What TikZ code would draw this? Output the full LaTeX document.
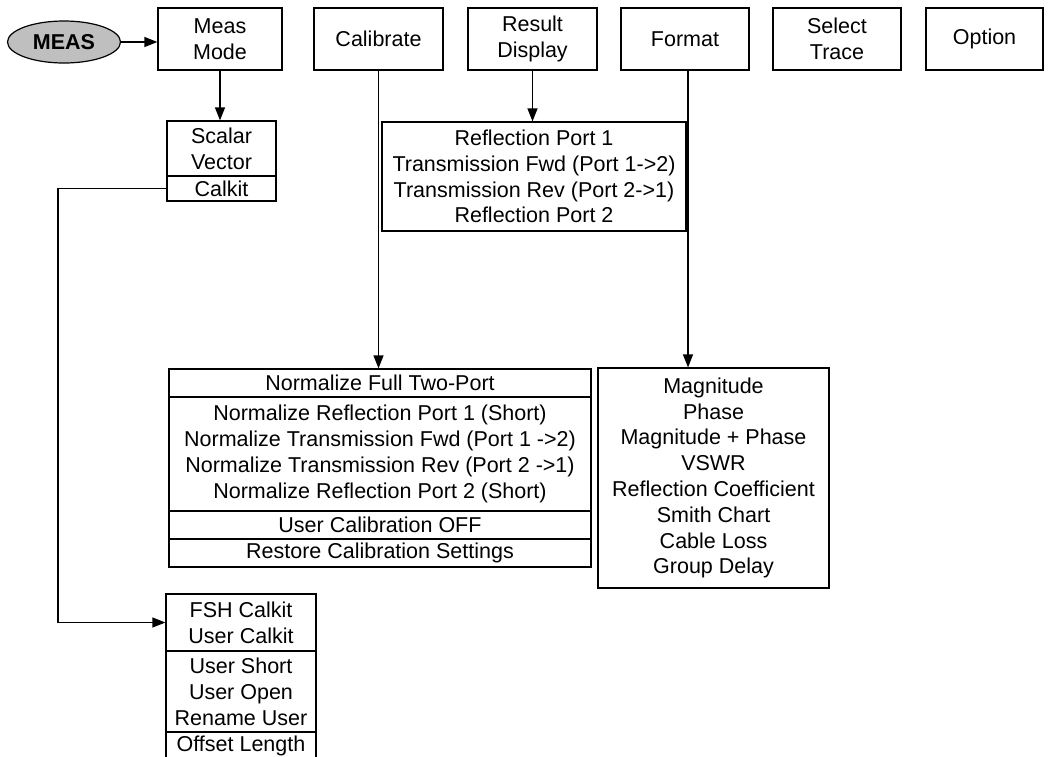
\documentclass[tikz,border=0pt]{standalone}
\usepackage{fontspec}
\setmainfont{Liberation Sans}
\usetikzlibrary{arrows.meta, shapes.geometric}

\begin{document}
\begin{tikzpicture}[x=1pt, y=-1pt, line width=1.2pt,
  font=\fontsize{21.5}{25.8}\selectfont,
  box/.style={draw, rectangle, inner sep=0pt, align=center},
  arr/.style={-{Triangle[length=13pt, width=10pt]}}]

  \useasboundingbox (0,0) rectangle (1048,756);

  % start key
  \node[ellipse, draw, fill=black!25, inner sep=0pt, minimum width=113pt, minimum height=42pt,
        font=\fontsize{21.5}{25.8}\selectfont\bfseries] (meas) at (64,42) {MEAS};

  % softkey row
  \node[box, minimum width=124pt, minimum height=62pt] (mm)  at (220,39)   {Meas\\Mode};
  \node[box, minimum width=129pt, minimum height=62pt] (cal) at (378.5,39) {Calibrate};
  \node[box, minimum width=129pt, minimum height=62pt] (res) at (532.5,39) {Result\\Display};
  \node[box, minimum width=128pt, minimum height=62pt] (fmt) at (685,39)   {Format};
  \node[box, minimum width=128pt, minimum height=62pt] (sel) at (837,39)   {Select\\Trace};
  \node[box, minimum width=117pt, minimum height=62pt] (opt) at (984.5,39) {Option};

  % meas mode menu
  \node[box, minimum width=109pt, minimum height=55pt] (sv)   at (221.5,148.5) {Scalar\\Vector};
  \node[box, minimum width=109pt, minimum height=25pt] (calk) at (221.5,188.5) {Calkit};

  % result display menu
  \node[box, minimum width=304pt, minimum height=109pt] (refl) at (534,176.5)
    {Reflection Port 1\\Transmission Fwd (Port 1->2)\\Transmission Rev (Port 2->1)\\Reflection Port 2};

  % calibrate menu
  \node[box, minimum width=422pt, minimum height=28pt]  (nfull) at (380,383) {Normalize Full Two-Port};
  \node[box, minimum width=422pt, minimum height=114pt] (nrefl) at (380,454)
    {Normalize Reflection Port 1 (Short)\\Normalize Transmission Fwd (Port 1 ->2)\\
     Normalize Transmission Rev (Port 2 ->1)\\Normalize Reflection Port 2 (Short)};
  \node[box, minimum width=422pt, minimum height=28pt]  (ucal)  at (380,525) {User Calibration OFF};
  \node[box, minimum width=422pt, minimum height=28pt]  (rest)  at (380,553) {Restore Calibration Settings};

  % format menu
  \node[box, minimum width=231pt, minimum height=220pt] (mag) at (713.5,478)
    {Magnitude\\Phase\\Magnitude + Phase\\VSWR\\Reflection Coefficient\\Smith Chart\\Cable Loss\\Group Delay};

  % calkit menu
  \node[box, minimum width=150pt, minimum height=57pt] (fcal)  at (241,622.5) {FSH Calkit\\User Calkit};
  \node[box, minimum width=150pt, minimum height=81pt] (fuser) at (241,691.5) {User Short\\User Open\\Rename User};
  \node[box, minimum width=150pt, minimum height=28pt] (foff)  at (241,746)   {Offset Length};

  % connectors
  \draw[arr] (meas.east) -- (meas.east -| mm.west);
  \draw[arr] (mm.south) -- (mm.south |- sv.north);
  \draw[arr] (cal.south) -- (cal.south |- nfull.north);
  \draw[arr] (res.south) -- (res.south |- refl.north);
  \draw[arr] ([xshift=3pt]fmt.south) -- ([xshift=3pt]fmt.south |- mag.north);
  \coordinate (bend) at (58,0);
  \draw[arr] (calk.west) -- (calk.west -| bend) |- (fcal.west);

\end{tikzpicture}
\end{document}
